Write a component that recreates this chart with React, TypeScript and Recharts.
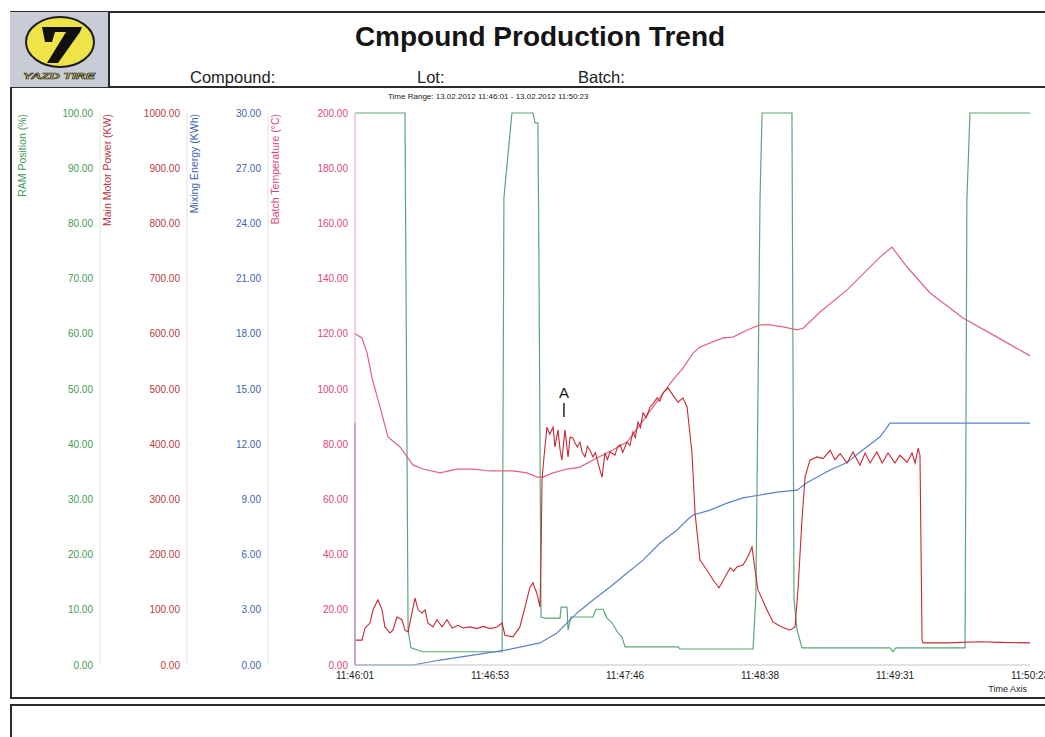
import { Line, LineChart, ReferenceLine, XAxis, YAxis } from "recharts";

// time axis, seconds from 11:46:01
const timeTicks = [0, 52.4, 104.8, 157.2, 209.6, 262];
const timeLabels = ["11:46:01", "11:46:53", "11:47:46", "11:48:38", "11:49:31", "11:50:23"];

const ramTicks = [0, 10, 20, 30, 40, 50, 60, 70, 80, 90, 100];
const powerTicks = [0, 100, 200, 300, 400, 500, 600, 700, 800, 900, 1000];
const energyTicks = [0, 3, 6, 9, 12, 15, 18, 21, 24, 27, 30];
const tempTicks = [0, 20, 40, 60, 80, 100, 120, 140, 160, 180, 200];

// [seconds, %]
const ramPosition: [number, number][] = [
  [0, 100], [19.4, 100], [20.6, 6.3], [21.7, 3.1], [26.4, 2.4], [57.1, 2.4],
  [57.8, 84.6], [60.9, 100], [69.1, 100], [69.9, 98.2], [71.0, 98.2], [71.4, 72.8],
  [72.2, 8.7], [73.7, 8.5], [79.6, 8.5], [80.0, 10.5], [82.3, 10.5], [82.7, 6.3],
  [83.8, 8.7], [92.4, 8.7], [93.5, 10.1], [96.3, 10.1], [97.8, 8.5], [99.8, 7.6],
  [102.1, 5.8], [103.6, 5.1], [104.8, 3.3], [125.4, 3.3], [126.1, 2.9], [154.5, 2.9],
  [155.6, 12.3], [157.2, 84.2], [158.0, 100], [169.6, 100], [170.4, 11.8], [171.6, 6.3],
  [173.5, 3.1], [207.7, 3.1], [208.8, 2.4], [210.0, 3.1], [236.8, 3.1], [237.5, 84.2],
  [238.7, 100], [262, 100],
];

// [seconds, KW]
const motorPower: [number, number][] = [
  [0, 45], [2.7, 45], [3.9, 67], [5.8, 76], [7.0, 100], [8.9, 118], [10.5, 100],
  [11.6, 69], [13.6, 58], [14.7, 63], [16.3, 87], [18.2, 82], [19.4, 63], [20.6, 60],
  [22.1, 94], [23.3, 121], [24.5, 100], [26.0, 94], [27.2, 100], [28.3, 76], [30.3, 69],
  [31.8, 82], [33.8, 69], [35.7, 82], [37.7, 67], [40.0, 72], [41.9, 67], [44.6, 69],
  [47.4, 66], [49.7, 70], [52.4, 66], [55.1, 69], [57.1, 76], [58.2, 54], [61.3, 51],
  [64.0, 69], [66.0, 105], [67.9, 141], [69.1, 149], [69.9, 138], [70.6, 130],
  [71.8, 105], [72.2, 200], [72.6, 335], [73.0, 359], [74.5, 431], [75.6, 418],
  [76.9, 431], [77.6, 395], [78.8, 426], [79.6, 390], [80.3, 371], [81.5, 426],
  [82.7, 377], [83.5, 413], [84.6, 411], [85.4, 402], [86.3, 395], [87.3, 404],
  [88.2, 385], [89.3, 377], [90.2, 396], [91.2, 389], [92.4, 377], [93.3, 385],
  [94.3, 366], [95.9, 340], [97.0, 384], [98.0, 372], [99.0, 386], [100.9, 380],
  [101.9, 395], [102.9, 399], [103.9, 385], [105.6, 404], [106.7, 398], [107.9, 422],
  [108.8, 412], [109.8, 440], [110.8, 430], [111.8, 457], [113.0, 448], [114.5, 467],
  [115.8, 474], [117.2, 484], [118.3, 478], [119.6, 493], [121.5, 502], [123.4, 489],
  [125.4, 476], [127.3, 484], [128.9, 467], [130.8, 384], [132.0, 275], [133.9, 190],
  [136.6, 172], [139.0, 154], [141.3, 140], [143.6, 159], [145.6, 176], [147.0, 170],
  [148.3, 178], [150.6, 181], [152.5, 196], [154.1, 214], [155.3, 172], [156.4, 136],
  [159.9, 100], [162.2, 78], [165.7, 69], [168.8, 63], [170.8, 69], [172.0, 141],
  [173.5, 263], [174.7, 341], [176.6, 371], [179.3, 377], [181.7, 374], [184.4, 389],
  [186.3, 372], [188.3, 383], [191.0, 366], [193.3, 386], [196.0, 362], [198.0, 384],
  [199.9, 366], [202.6, 386], [204.6, 366], [206.9, 384], [209.6, 366], [211.5, 380],
  [214.3, 367], [216.2, 384], [217.4, 366], [218.6, 393], [219.3, 380], [220.1, 45],
  [220.5, 40], [229.8, 40], [242.6, 42], [250.4, 41], [262, 40],
];

// [seconds, KWh]
const mixingEnergy: [number, number][] = [
  [0, 13.15], [0, 0], [22.5, 0], [33.0, 0.27], [45.8, 0.54], [59.0, 0.82], [71.8, 1.2],
  [78.4, 1.74], [86.2, 2.83], [92.4, 3.53], [99.0, 4.24], [105.6, 5.0], [111.8, 5.7],
  [118.4, 6.63], [125.0, 7.34], [128.9, 7.88], [131.2, 8.15], [137.8, 8.42],
  [144.4, 8.8], [150.6, 9.08], [157.2, 9.24], [163.8, 9.4], [171.6, 9.5], [175.4, 9.9],
  [184.4, 10.6], [191.0, 11.0], [197.2, 11.7], [203.8, 12.4], [207.7, 13.15], [262, 13.15],
];

// [seconds, °C]
const batchTemperature: [number, number][] = [
  [0, 120], [2.7, 118.5], [4.7, 113], [6.6, 104], [9.7, 93.5], [12.8, 82.6], [17.5, 79],
  [20.2, 75.4], [22.5, 72.5], [26.4, 71], [33.0, 69.6], [39.6, 71], [45.8, 71],
  [52.4, 70.3], [61.3, 70.3], [66.8, 69.6], [70.6, 68.1], [73.0, 68.1], [76.9, 69.6],
  [82.3, 71], [87.3, 71.7], [93.9, 75], [100.1, 77.9], [105.6, 80.8], [110.6, 87],
  [115.7, 93.5], [121.1, 100.4], [123.4, 103.3], [127.3, 107.6], [131.2, 113],
  [133.9, 115.2], [142.8, 118.5], [146.7, 118.8], [152.2, 121.4], [157.2, 123.2],
  [161.1, 123.2], [166.1, 122.5], [171.6, 121.4], [173.9, 122], [180.5, 127.9],
  [191.0, 135.9], [203.8, 147.8], [208.4, 151.4], [214.3, 144.2], [223.2, 134.8],
  [236.0, 125.7], [249.2, 118.8], [262, 112],
];

const toPoints = (rows: [number, number][]) => rows.map(([t, v]) => ({ t, v }));

const FONT = "'Liberation Sans', Arial, sans-serif";
const GREEN = "#3f9a55";
const RED = "#b8393a";
const BLUE = "#3b63b0";
const PINK = "#e0457a";

const fixed2 = (v: number) => v.toFixed(2);

function axisTitle(text: string, color: string) {
  return (props: any) => {
    const vb = props.viewBox || {};
    const x = (vb.x ?? 0) + 7;
    const y = (vb.y ?? 0) + 1;
    return (
      <text
        x={x}
        y={y}
        transform={`rotate(-90 ${x} ${y})`}
        textAnchor="end"
        dominantBaseline="central"
        fill={color}
        fontSize={10.5}
        fontFamily={FONT}
      >
        {text}
      </text>
    );
  };
}

function Logo() {
  return (
    <svg width={98} height={75} style={{ position: "absolute", left: 10, top: 12 }}>
      <rect x={0} y={0} width={98} height={75} fill="#c9ccd7" />
      <ellipse cx={50} cy={30} rx={34} ry={25} fill="#efe34a" stroke="#1d1d1d" strokeWidth={2} />
      <polygon points="32,15 72,15 70,20 48,51 37,51 56,20 45,20 42,30 35,30" fill="#111" />
      <text
        x={49}
        y={67}
        textAnchor="middle"
        fontSize={9}
        fontWeight="bold"
        fontStyle="italic"
        fontFamily={FONT}
        fill="#efe34a"
        stroke="#1d1d1d"
        strokeWidth={0.6}
        textLength={72}
        lengthAdjust="spacingAndGlyphs"
      >
        YAZD TIRE
      </text>
    </svg>
  );
}

export default function App() {
  const tickStyle = (fill: string) => ({ fontSize: 10, fill, fontFamily: FONT });

  return (
    <div
      style={{
        position: "absolute",
        left: 0,
        top: 0,
        width: 1045,
        height: 737,
        overflow: "hidden",
        background: "#fff",
        fontFamily: FONT,
      }}
    >
      {/* report frame */}
      <div style={{ position: "absolute", left: 10, top: 11, width: 1060, height: 684, border: "2px solid #2a2a2a" }} />
      <div style={{ position: "absolute", left: 10, top: 86, width: 1060, height: 2, background: "#2a2a2a" }} />
      <div style={{ position: "absolute", left: 10, top: 704, width: 1060, height: 60, border: "2px solid #2a2a2a" }} />
      <Logo />
      <div style={{ position: "absolute", left: 108, top: 11, width: 2, height: 76, background: "#2a2a2a" }} />

      <div
        style={{
          position: "absolute",
          left: 240,
          width: 600,
          top: 23,
          textAlign: "center",
          fontSize: 28,
          lineHeight: 1,
          fontWeight: "bold",
          color: "#151515",
        }}
      >
        Cmpound Production Trend
      </div>
      <div style={{ position: "absolute", left: 190, top: 69, fontSize: 16.5, lineHeight: 1, color: "#222" }}>Compound:</div>
      <div style={{ position: "absolute", left: 417, top: 69, fontSize: 16.5, lineHeight: 1, color: "#222" }}>Lot:</div>
      <div style={{ position: "absolute", left: 578, top: 69, fontSize: 16.5, lineHeight: 1, color: "#222" }}>Batch:</div>
      <div style={{ position: "absolute", left: 388, top: 93, fontSize: 8, lineHeight: 1, color: "#1a1a1a", whiteSpace: "nowrap" }}>
        Time Range: 13.02.2012 11:46:01 - 13.02.2012 11:50:23
      </div>

      <div style={{ position: "absolute", left: 15, top: 100 }}>
        <LineChart width={1030} height={595} margin={{ top: 13, right: 15, bottom: 0, left: 0 }}>
          <XAxis
            type="number"
            dataKey="t"
            domain={[0, 262]}
            ticks={timeTicks}
            interval={0}
            tickFormatter={(v: number) => timeLabels[timeTicks.indexOf(v)] ?? ""}
            height={30}
            tickLine={false}
            tickSize={2}
            tickMargin={5}
            axisLine={{ stroke: "#c4c4c4" }}
            tick={tickStyle("#1c1c1c")}
            label={{ value: "Time Axis", position: "insideBottomRight", offset: 3, fontSize: 9, fill: "#1c1c1c" }}
          />
          {/* left axes stack outward from the plot: temperature, energy, power, ram */}
          <YAxis
            yAxisId="a_temp"
            orientation="left"
            width={87}
            domain={[0, 200]}
            ticks={tempTicks}
            interval={0}
            tickFormatter={fixed2}
            tickLine={false}
            tickSize={4}
            tickMargin={3}
            axisLine={{ stroke: "#ee9ab5" }}
            tick={tickStyle(PINK)}
            label={axisTitle("Batch Temperature (°C)", PINK)}
          />
          <YAxis
            yAxisId="b_energy"
            orientation="left"
            width={81}
            domain={[0, 30]}
            ticks={energyTicks}
            interval={0}
            tickFormatter={fixed2}
            tickLine={false}
            tickSize={4}
            tickMargin={3}
            axisLine={{ stroke: "#dbe3f2" }}
            tick={tickStyle(BLUE)}
            label={axisTitle("Mixing Energy (KWh)", BLUE)}
          />
          <YAxis
            yAxisId="c_power"
            orientation="left"
            width={87}
            domain={[0, 1000]}
            ticks={powerTicks}
            interval={0}
            tickFormatter={fixed2}
            tickLine={false}
            tickSize={4}
            tickMargin={3}
            axisLine={{ stroke: "#f2dada" }}
            tick={tickStyle(RED)}
            label={axisTitle("Main Motor Power (KW)", RED)}
          />
          <YAxis
            yAxisId="d_ram"
            orientation="left"
            width={85}
            domain={[0, 100]}
            ticks={ramTicks}
            interval={0}
            tickFormatter={fixed2}
            tickLine={false}
            tickSize={4}
            tickMargin={3}
            axisLine={{ stroke: "#dcefdf" }}
            tick={tickStyle(GREEN)}
            label={axisTitle("RAM Position (%)", GREEN)}
          />

          <Line
            yAxisId="d_ram"
            data={toPoints(ramPosition)}
            dataKey="v"
            type="linear"
            stroke="#5aa877"
            strokeWidth={1.2}
            dot={false}
            isAnimationActive={false}
          />
          <Line
            yAxisId="b_energy"
            data={toPoints(mixingEnergy)}
            dataKey="v"
            type="linear"
            stroke="#5a82c8"
            strokeWidth={1.2}
            dot={false}
            isAnimationActive={false}
          />
          <Line
            yAxisId="a_temp"
            data={toPoints(batchTemperature)}
            dataKey="v"
            type="linear"
            stroke="#e06282"
            strokeWidth={1.2}
            dot={false}
            isAnimationActive={false}
          />
          <Line
            yAxisId="c_power"
            data={toPoints(motorPower)}
            dataKey="v"
            type="linear"
            stroke="#c42a35"
            strokeWidth={1.1}
            dot={false}
            isAnimationActive={false}
          />

          <ReferenceLine
            yAxisId="a_temp"
            segment={[{ x: 81.1, y: 89.9 }, { x: 81.1, y: 94.9 }]}
            stroke="#222"
            strokeWidth={1.5}
            label={{ value: "A", position: "top", offset: 5, fontSize: 15, fill: "#111" }}
          />
        </LineChart>
      </div>
    </div>
  );
}
